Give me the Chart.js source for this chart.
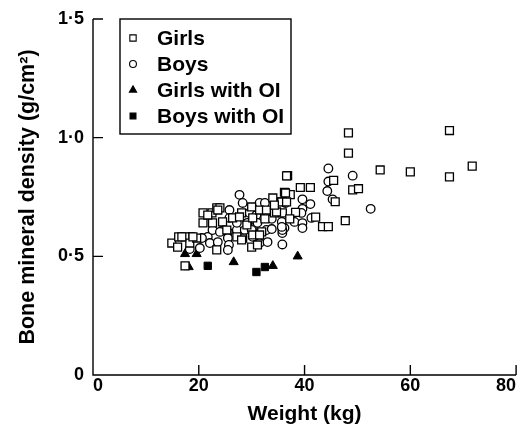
<!DOCTYPE html>
<html>
<head>
<meta charset="utf-8">
<script src="https://cdn.jsdelivr.net/npm/chart.js@4"></script>
<style>
  html, body { margin: 0; padding: 0; background: #fff; }
  #wrap { width: 523px; height: 427px; }
</style>
</head>
<body>
<div id="wrap"><canvas id="chart" width="523" height="427"></canvas></div>
<script>
// weight (kg), bone mineral density (g/cm2)
const girls = [
  [48.3, 1.02], [48.3, 0.935], [54.3, 0.864], [60.0, 0.856], [67.4, 1.03], [67.4, 0.835],
  [71.7, 0.88], [36.8, 0.84], [39.2, 0.79], [41.1, 0.79], [45.5, 0.82], [49.1, 0.78],
  [50.2, 0.785], [45.8, 0.73], [47.7, 0.65], [43.4, 0.625], [44.5, 0.625], [36.2, 0.77],
  [37.3, 0.76], [35.6, 0.73], [38.3, 0.685], [42.1, 0.665],
  [14.9, 0.556], [16.0, 0.539], [16.2, 0.582], [17.4, 0.582], [18.3, 0.556], [19.6, 0.577],
  [20.8, 0.683], [20.8, 0.641], [22.5, 0.683], [22.6, 0.641], [23.4, 0.704], [24.0, 0.704],
  [23.4, 0.527], [24.5, 0.645], [25.3, 0.611], [26.4, 0.662], [28.1, 0.683], [28.3, 0.577],
  [29.1, 0.632], [30.0, 0.708], [30.2, 0.662], [31.5, 0.695], [31.9, 0.603], [32.8, 0.695],
  [30.0, 0.539], [34.0, 0.746], [34.3, 0.683], [35.7, 0.729], [35.8, 0.683], [36.4, 0.767],
  [36.6, 0.839], [17.4, 0.46],
  [36.6, 0.729], [34.7, 0.687], [23.6, 0.695], [27.7, 0.666], [32.5, 0.658], [30.2, 0.590],
  [31.5, 0.590], [27.2, 0.582], [28.1, 0.569], [31.1, 0.548], [34.3, 0.716], [37.2, 0.658],
  [21.7, 0.674], [18.9, 0.582], [16.8, 0.582]
];
const boys = [
  [44.5, 0.87], [49.1, 0.84], [44.5, 0.815], [44.3, 0.775], [45.3, 0.74], [52.5, 0.70],
  [35.8, 0.55], [39.6, 0.74], [41.1, 0.72], [36.4, 0.725], [39.6, 0.70], [38.1, 0.645],
  [39.6, 0.64], [39.6, 0.619], [36.2, 0.619], [35.8, 0.598], [41.3, 0.662],
  [27.7, 0.759], [28.3, 0.725], [31.5, 0.725], [32.5, 0.725], [25.8, 0.695], [29.6, 0.683],
  [30.9, 0.674], [27.2, 0.662], [18.9, 0.582], [20.2, 0.535], [21.7, 0.582], [22.1, 0.556],
  [24.3, 0.607], [25.5, 0.603], [25.5, 0.577], [25.7, 0.548], [25.5, 0.527], [27.2, 0.611],
  [28.7, 0.611], [30.2, 0.619], [31.1, 0.641], [32.8, 0.611], [33.8, 0.615], [31.5, 0.556],
  [33.0, 0.560], [35.7, 0.645], [35.8, 0.611], [30.2, 0.582], [18.3, 0.531],
  [25.8, 0.662], [30.0, 0.611], [35.7, 0.624], [39.4, 0.683], [23.6, 0.560], [29.2, 0.641],
  [27.2, 0.641], [33.8, 0.658], [18.3, 0.582], [20.6, 0.577], [22.6, 0.611], [24.0, 0.603]
];
const girlsOI = [[17.4, 0.51], [19.6, 0.51], [18.1, 0.455], [26.6, 0.476], [34.0, 0.46], [38.7, 0.50]];
const boysOI = [[21.7, 0.46], [30.9, 0.434], [32.5, 0.455]];

const xTicks = [0, 20, 40, 60, 80];
const yTicks = [0, 0.5, 1.0, 1.5];
const yTickText = ['0', '0·5', '1·0', '1·5'];

const FONT = '"Liberation Sans", Arial, sans-serif';
const toXY = (arr) => arr.map(p => ({ x: p[0], y: p[1] }));

// ticks point into the plot, so draw them ourselves
const innerTicks = {
  id: 'innerTicks',
  afterDraw(chart) {
    const c = chart.ctx;
    const xs = chart.scales.x, ys = chart.scales.y;
    const a = chart.chartArea;
    c.save();
    c.strokeStyle = '#000';
    c.lineWidth = 1.4;
    c.beginPath();
    c.moveTo(a.left, a.top);
    c.lineTo(a.left, a.bottom);
    c.lineTo(a.right, a.bottom);
    xTicks.slice(1).forEach(v => {
      const px = xs.getPixelForValue(v);
      c.moveTo(px, a.bottom);
      c.lineTo(px, a.bottom - 10);
    });
    yTicks.slice(1).forEach(v => {
      const py = ys.getPixelForValue(v);
      c.moveTo(a.left, py);
      c.lineTo(a.left + 10, py);
    });
    c.stroke();
    c.restore();
  }
};

// legend box sits inside the plot, top left
const boxLegend = {
  id: 'boxLegend',
  afterDraw(chart) {
    const c = chart.ctx;
    const left = 120, top = 19, w = 171, h = 115;
    c.save();
    c.fillStyle = '#fff';
    c.fillRect(left, top, w, h);
    c.strokeStyle = '#000';
    c.lineWidth = 1.4;
    c.strokeRect(left, top, w, h);
    c.font = 'bold 21px ' + FONT;
    c.textBaseline = 'middle';
    chart.data.datasets.forEach((ds, i) => {
      const y = top + 19 + i * 26;
      c.strokeStyle = '#000';
      c.fillStyle = ds.backgroundColor;
      c.lineWidth = 1.1;
      Chart.helpers.drawPoint(c, { pointStyle: ds.pointStyle, radius: ds.pointRadius * 0.8, borderWidth: 1.1 }, 133, y);
      c.fillStyle = '#000';
      c.fillText(ds.label, 157, y + 1);
    });
    c.restore();
  }
};

const ctx = document.getElementById('chart').getContext('2d');
const chart = new Chart(ctx, {
  type: 'scatter',
  data: {
    datasets: [
      { label: 'Girls', data: toXY(girls), pointStyle: 'rect', pointRadius: 5.6,
        backgroundColor: '#fff', borderColor: '#000', borderWidth: 1.3 },
      { label: 'Boys', data: toXY(boys), pointStyle: 'circle', pointRadius: 4.3,
        backgroundColor: '#fff', borderColor: '#000', borderWidth: 1.3 },
      { label: 'Girls with OI', data: toXY(girlsOI), pointStyle: 'triangle', pointRadius: 5.2,
        backgroundColor: '#000', borderColor: '#000', borderWidth: 1 },
      { label: 'Boys with OI', data: toXY(boysOI), pointStyle: 'rect', pointRadius: 5.2,
        backgroundColor: '#000', borderColor: '#000', borderWidth: 1 }
    ]
  },
  options: {
    responsive: false,
    animation: false,
    layout: { padding: { top: 19, right: 6, left: 0, bottom: 0 } },
    plugins: {
      legend: { display: false },
      tooltip: { enabled: false }
    },
    scales: {
      x: {
        type: 'linear', min: 0, max: 80,
        afterBuildTicks: (s) => { s.ticks = xTicks.map(v => ({ value: v })); },
        afterFit: (s) => { s.height = 52; s.paddingLeft = 0; s.paddingRight = 0; },
        grid: { display: false, drawTicks: false },
        border: { display: false },
        ticks: { color: '#000', font: { family: FONT, size: 18, weight: 'bold' }, padding: 0, align: 'inner' },
        title: { display: true, text: 'Weight (kg)', color: '#000',
          font: { family: FONT, size: 21, weight: 'bold' }, padding: { top: 0, bottom: 0 } }
      },
      y: {
        type: 'linear', min: 0, max: 1.5,
        afterBuildTicks: (s) => { s.ticks = yTicks.map(v => ({ value: v })); },
        afterFit: (s) => { s.width = 93; s.paddingTop = 0; s.paddingBottom = 0; },
        grid: { display: false, drawTicks: false },
        border: { display: false },
        ticks: {
          color: '#000', font: { family: FONT, size: 18, weight: 'bold' }, padding: 9,
          callback: (v) => yTickText[yTicks.indexOf(v)]
        },
        title: { display: true, text: 'Bone mineral density (g/cm²)', color: '#000',
          font: { family: FONT, size: 21.5, weight: 'bold' }, padding: { top: 15, bottom: 0 } }
      }
    }
  },
  plugins: [innerTicks, boxLegend]
});
</script>
</body>
</html>
